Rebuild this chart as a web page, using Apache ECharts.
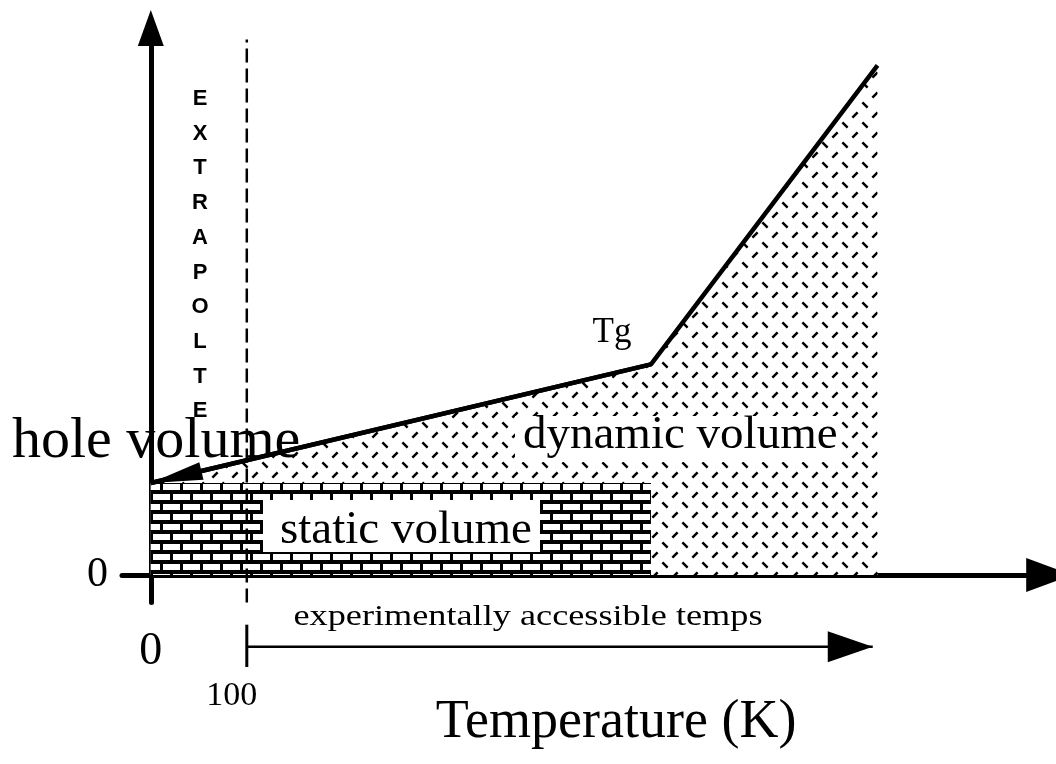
<!DOCTYPE html>
<html>
<head>
<meta charset="utf-8">
<title>hole volume vs temperature</title>
<script src="https://cdn.jsdelivr.net/npm/echarts@6/dist/echarts.min.js"></script>
<style>
  html, body { margin: 0; padding: 0; background: #fff; }
  #chart { width: 1056px; height: 764px; }
</style>
</head>
<body>
<div id="chart"></div>
<script>
// temperature in K, hole volume in arbitrary units (static volume = 1)
var boundaryT = [0, 521, 757];
var boundaryV = [1.0, 2.29, 5.54];
var staticT = [0, 521];
var staticV = [1.0, 1.0];
var extrapT = [100, 100];
var extrapV = [-0.3, 5.82];
var accessT = [100, 752];
var accessV = [-0.78, -0.78];
var accessTickT = [100, 100];
var accessTickV = [-0.54, -1.0];
var xTicks = [0, 100];
var yTicks = [0];

var serif = 'Liberation Serif, Times New Roman, serif';
var sans = 'Liberation Sans, Arial, sans-serif';

function pairs (xs, ys) {
  return xs.map(function (x, i) { return [x, ys[i]] })
}

// brick pattern for the static volume
function brickTile () {
  var c = document.createElement('canvas')
  c.width = 20; c.height = 20
  var g = c.getContext('2d')
  g.fillStyle = '#fff'; g.fillRect(0, 0, 20, 20)
  g.fillStyle = '#000'
  g.fillRect(0, 0, 20, 4)
  g.fillRect(0, 10, 20, 4)
  g.fillRect(0, 0, 3, 10)
  g.fillRect(10, 10, 3, 10)
  return c
}

// short dashes for the dynamic volume
function hatchTile () {
  var c = document.createElement('canvas')
  c.width = 20; c.height = 20
  var g = c.getContext('2d')
  g.fillStyle = '#fff'; g.fillRect(0, 0, 20, 20)
  g.strokeStyle = '#000'; g.lineWidth = 2.5
  var d = 2.6
  function dash (cx, cy, s) {
    g.beginPath()
    g.moveTo(cx - d, cy - d * s)
    g.lineTo(cx + d, cy + d * s)
    g.stroke()
  }
  dash(5, 5, 1)
  dash(15, 15, -1)
  return c
}

var chart = echarts.init(document.getElementById('chart'))

var letters = 'EXTRAPOLTE'.split('').join('\n')

chart.setOption({
  animation: false,
  backgroundColor: '#fff',
  grid: { left: 122, top: 23, width: 931.2, height: 579.6, containLabel: false, outerBoundsMode: 'none' },
  xAxis: {
    type: 'value',
    min: -30,
    max: 940,
    splitLine: { show: false },
    axisTick: { show: false },
    axisLine: {
      onZero: true,
      lineStyle: { color: '#000', width: 5 },
      symbol: ['none', 'triangle'],
      symbolSize: [34, 46],
      symbolOffset: [0, -4]
    },
    axisLabel: {
      customValues: xTicks,
      margin: 48,
      color: '#000',
      formatter: function (v) {
        return v === 0 ? '{a|0}' : '{b|' + v + '}'
      },
      rich: {
        a: { fontSize: 46, lineHeight: 46, fontFamily: serif, color: '#000', padding: [0, 0, 44, 0] },
        b: { fontSize: 34, lineHeight: 34, fontFamily: serif, color: '#000', padding: [56, 30, 0, 0] }
      }
    },
    name: 'Temperature (K)',
    nameLocation: 'middle',
    nameGap: 93,
    nameMoveOverlap: false,
    nameTextStyle: { fontSize: 54, fontFamily: serif, color: '#000', padding: [0, 0, 0, 57] }
  },
  yAxis: {
    type: 'value',
    min: -0.3,
    max: 6,
    splitLine: { show: false },
    axisTick: { show: false },
    axisLine: {
      onZero: true,
      lineStyle: { color: '#000', width: 5 },
      symbol: ['none', 'triangle'],
      symbolSize: [26, 36],
      symbolOffset: [0, -5]
    },
    axisLabel: {
      customValues: yTicks,
      margin: 14,
      fontSize: 42,
      fontFamily: serif,
      color: '#000'
    }
  },
  series: [
    {
      name: 'dynamic volume',
      type: 'line',
      data: pairs(boundaryT, boundaryV),
      symbol: 'none',
      silent: true,
      lineStyle: { width: 0, opacity: 0 },
      areaStyle: { color: { image: hatchTile(), repeat: 'repeat' }, opacity: 1, origin: 0 },
      z: 1
    },
    {
      name: 'static volume',
      type: 'line',
      data: pairs(staticT, staticV),
      symbol: 'none',
      silent: true,
      lineStyle: { width: 0, opacity: 0 },
      areaStyle: { color: { image: brickTile(), repeat: 'repeat' }, opacity: 1, origin: 0 },
      z: 2
    },
    {
      name: 'extrapolate',
      type: 'line',
      data: pairs(extrapT, extrapV),
      symbol: 'none',
      silent: true,
      clip: false,
      lineStyle: { color: '#000', width: 2.5, type: [14, 6] },
      z: 3
    },
    {
      name: 'hole volume',
      type: 'line',
      data: pairs(boundaryT, boundaryV),
      symbol: 'none',
      silent: true,
      lineStyle: { color: '#000', width: 4.5 },
      markLine: {
        silent: true,
        label: { show: false },
        lineStyle: { color: '#000', width: 4.5, type: 'solid' },
        data: [[
          { coord: [boundaryT[1], boundaryV[1]], symbol: 'none' },
          { coord: [boundaryT[0], boundaryV[0]], symbol: 'triangle', symbolSize: [18, 52], symbolOffset: [0, '50%'] }
        ]]
      },
      z: 4
    },
    {
      name: 'accessible',
      type: 'line',
      clip: false,
      silent: true,
      data: [
        { value: [accessT[0], accessV[0]], symbol: 'none' },
        { value: [accessT[1], accessV[1]], symbol: 'triangle', symbolSize: [31, 45], symbolRotate: -90, symbolOffset: [-22.5, 0] }
      ],
      itemStyle: { color: '#000' },
      lineStyle: { color: '#000', width: 2.5 },
      z: 4
    },
    {
      name: 'accessible start',
      type: 'line',
      clip: false,
      silent: true,
      symbol: 'none',
      data: pairs(accessTickT, accessTickV),
      lineStyle: { color: '#000', width: 3 },
      z: 4
    }
  ],
  graphic: [
    {
      type: 'text', x: 12, y: 442, silent: true, z: 100,
      style: { text: 'hole volume', font: '58px ' + serif, fill: '#000', align: 'left', verticalAlign: 'middle' }
    },
    {
      type: 'text', x: 200, y: 81.6, silent: true, z: 100,
      style: { text: letters, font: 'bold 22px ' + sans, lineHeight: 34.7, fill: '#000', align: 'center', verticalAlign: 'top' }
    },
    {
      type: 'text', x: 612, y: 333, silent: true, z: 100,
      style: { text: 'Tg', font: '35px ' + serif, fill: '#000', align: 'center', verticalAlign: 'middle' }
    },
    {
      type: 'rect', silent: true, z: 100,
      shape: { x: 515, y: 416, width: 325, height: 46 },
      style: { fill: '#fff' }
    },
    {
      type: 'text', x: 523, y: 436, silent: true, z: 101,
      style: { text: 'dynamic volume', font: '47px ' + serif, fill: '#000', align: 'left', verticalAlign: 'middle' }
    },
    {
      type: 'rect', silent: true, z: 100,
      shape: { x: 263, y: 500, width: 277, height: 52 },
      style: { fill: '#fff' }
    },
    {
      type: 'text', x: 280, y: 531, silent: true, z: 101,
      style: { text: 'static volume', font: '47px ' + serif, fill: '#000', align: 'left', verticalAlign: 'middle' }
    },
    {
      type: 'text', x: 528, y: 617, scaleX: 1.25, silent: true, z: 100,
      style: { text: 'experimentally accessible temps', font: '29px ' + serif, fill: '#000', align: 'center', verticalAlign: 'middle' }
    }
  ]
})
</script>
</body>
</html>
